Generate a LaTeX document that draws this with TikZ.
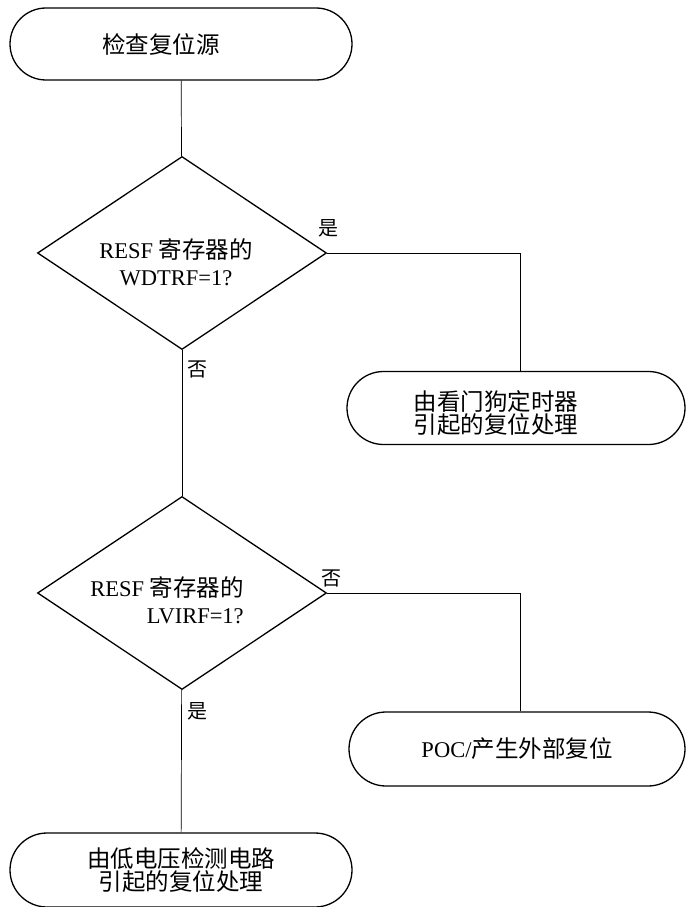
\documentclass[tikz,border=0pt]{standalone}
\usepackage{fontspec}
\setmainfont{Liberation Serif}
\newfontfamily\cjk{Noto Sans CJK SC}
\usetikzlibrary{shapes.geometric,shapes.misc}
\newcommand\zh[1]{{\cjk\fontsize{23.5}{23}\selectfont #1}}
\begin{document}
\begin{tikzpicture}[
    x=1pt,y=-1pt,font=\fontsize{22.5}{27}\selectfont,
    terminal/.style={draw,black,line width=1.3pt,rounded rectangle,
      minimum height=72pt,inner sep=0pt,align=center,
      font=\cjk\fontsize{23.5}{22.5}\selectfont},
    decision/.style={draw,black,diamond,line width=1.3pt,minimum width=289pt,
      minimum height=193pt,inner sep=0pt},
    label text/.style={inner sep=0pt,align=center,font=\cjk\fontsize{23.5}{22.5}\selectfont},
    flow/.style={black,line width=.7pt},
    answer/.style={inner sep=0pt,font=\cjk\fontsize{20}{24}\selectfont}
  ]
    \useasboundingbox (0,0) rectangle (686,907);

    % Main column of the chart.
    \node[terminal,minimum width=342pt] (check) at (181,44) {};
    \node[label text] (checktext) at (161,44) {检查复位源};
    \node[decision] (wdtq) at (182,253) {};
    \node[align=center] (wdttext) at (176,262) {RESF \zh{寄存器的}\\WDTRF=1?};
    \node[decision] (lviq) at (182,593) {};
    \node[align=right] (lvitext) at (167,600) {RESF \zh{寄存器的}\\LVIRF=1?};
    \node[terminal,minimum width=342pt,minimum height=74pt] (lvireset) at (181,870)
      {由低电压检测电路\\引起的复位处理};

    % Side branches.
    \node[terminal,minimum width=338pt,minimum height=73pt] (wdtreset) at (516,408) {};
    \node[label text] (wdtresettext) at (496,413) {由看门狗定时器\\引起的复位处理};
    \node[terminal,minimum width=336pt,minimum height=74pt] (pocreset) at (517,749)
      {{\fontspec{Liberation Serif}\fontsize{22.5}{22}\selectfont POC/}产生外部复位};

    % Connectors.
    \draw[flow] (check) -- (wdtq);
    \draw[flow] (wdtq.east) -| ([xshift=4pt]wdtreset.north);
    \draw[flow] (wdtq) -- (lviq);
    \draw[flow] (lviq.east) -| ([xshift=3pt]pocreset.north);
    \draw[flow] (lviq) -- (lvireset);

    % Branch answers.
    \node[answer] (yes1) at (328,228) {是};
    \node[answer] (no1) at (197,369) {否};
    \node[answer] (no2) at (331,578) {否};
    \node[answer] (yes2) at (197,711) {是};
  \end{tikzpicture}
\end{document}
